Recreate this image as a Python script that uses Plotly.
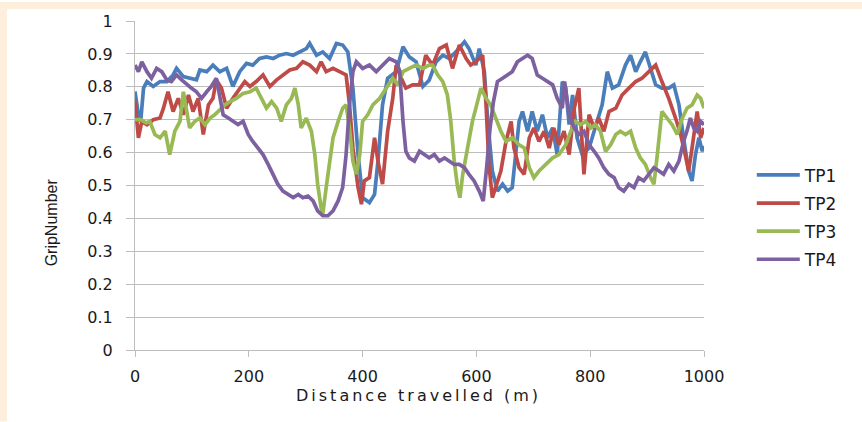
import plotly.graph_objects as go

# ---------------- data ----------------
tp1_x = [0, 6, 10, 15, 21, 32, 44, 56, 67, 73, 85, 96, 108, 114, 126, 137, 149, 161, 172, 184,
         196, 207, 219, 231, 243, 254, 266, 278, 289, 301, 307, 319, 330, 342, 354, 365, 374, 383,
         392, 400, 412, 421, 427, 435, 444, 459, 471, 482, 494, 506, 517, 529, 541, 552, 564, 579,
         587, 599, 605, 614, 620, 628, 637, 646, 655, 663, 669, 675, 681, 690, 698, 707, 716, 725,
         734, 742, 751, 757, 763, 769, 777, 786, 798, 809, 821, 830, 839, 850, 862, 871, 880, 888,
         897, 906, 915, 926, 938, 947, 956, 964, 973, 979, 985, 991, 997, 1000]
tp1_y = [0.786, 0.715, 0.695, 0.796, 0.816, 0.801, 0.816, 0.816, 0.836, 0.856, 0.831, 0.826, 0.821,
         0.851, 0.846, 0.866, 0.846, 0.856, 0.801, 0.846, 0.871, 0.866, 0.886, 0.891, 0.886, 0.896,
         0.901, 0.896, 0.906, 0.916, 0.932, 0.896, 0.906, 0.886, 0.932, 0.927, 0.906, 0.796, 0.594,
         0.463, 0.448, 0.473, 0.574, 0.745, 0.826, 0.846, 0.922, 0.891, 0.876, 0.801, 0.820, 0.876,
         0.896, 0.886, 0.906, 0.937, 0.916, 0.866, 0.916, 0.846, 0.695, 0.544, 0.483, 0.504, 0.483,
         0.494, 0.594, 0.695, 0.725, 0.665, 0.725, 0.665, 0.715, 0.645, 0.675, 0.594, 0.816, 0.796,
         0.685, 0.775, 0.645, 0.594, 0.614, 0.675, 0.745, 0.846, 0.796, 0.806, 0.866, 0.896, 0.846,
         0.876, 0.906, 0.856, 0.806, 0.796, 0.796, 0.806, 0.745, 0.645, 0.544, 0.514, 0.594, 0.645,
         0.604, 0.620]

tp2_x = [0, 6, 12, 21, 32, 44, 50, 58, 67, 76, 85, 94, 102, 111, 120, 129, 137, 143, 152, 161, 172,
         184, 193, 202, 213, 225, 237, 249, 260, 272, 284, 295, 307, 319, 327, 336, 348, 360, 371,
         377, 383, 392, 398, 403, 412, 421, 427, 435, 444, 453, 459, 468, 476, 488, 500, 511, 523,
         535, 547, 558, 570, 582, 590, 599, 611, 617, 622, 628, 634, 643, 652, 661, 666, 675, 684,
         693, 701, 710, 719, 728, 736, 745, 754, 763, 772, 780, 789, 798, 807, 815, 824, 833, 845,
         856, 868, 880, 891, 903, 915, 926, 938, 950, 959, 967, 973, 979, 988, 994, 1000]
tp2_y = [0.755, 0.645, 0.695, 0.685, 0.700, 0.705, 0.735, 0.785, 0.725, 0.765, 0.715, 0.775, 0.725,
         0.765, 0.655, 0.745, 0.765, 0.821, 0.796, 0.735, 0.765, 0.796, 0.816, 0.801, 0.816, 0.836,
         0.801, 0.821, 0.836, 0.851, 0.856, 0.876, 0.866, 0.846, 0.876, 0.846, 0.856, 0.846, 0.836,
         0.745, 0.614, 0.494, 0.443, 0.514, 0.524, 0.645, 0.574, 0.504, 0.665, 0.765, 0.866, 0.826,
         0.796, 0.806, 0.806, 0.896, 0.866, 0.916, 0.927, 0.856, 0.927, 0.886, 0.866, 0.876, 0.896,
         0.745, 0.564, 0.463, 0.494, 0.544, 0.634, 0.695, 0.614, 0.554, 0.534, 0.645, 0.675, 0.634,
         0.665, 0.614, 0.675, 0.624, 0.665, 0.594, 0.735, 0.796, 0.534, 0.715, 0.675, 0.705, 0.665,
         0.725, 0.735, 0.775, 0.796, 0.816, 0.826, 0.846, 0.866, 0.816, 0.765, 0.705, 0.655, 0.594,
         0.544, 0.614, 0.725, 0.645, 0.675]

tp3_x = [0, 10, 20, 26, 35, 44, 53, 61, 70, 79, 85, 91, 96, 105, 114, 123, 132, 140, 149, 158, 167,
         178, 190, 202, 213, 222, 231, 240, 249, 257, 266, 275, 281, 287, 292, 301, 310, 316, 321,
         327, 330, 336, 342, 348, 357, 365, 371, 377, 383, 389, 395, 400, 409, 418, 430, 441, 453,
         462, 471, 482, 494, 506, 517, 523, 532, 541, 549, 555, 561, 567, 571, 576, 582, 587, 593,
         602, 608, 617, 625, 634, 643, 652, 663, 675, 684, 693, 701, 710, 722, 734, 745, 757, 766,
         774, 783, 792, 801, 809, 818, 827, 836, 845, 853, 862, 871, 880, 888, 897, 906, 912, 918,
         926, 935, 944, 953, 962, 970, 979, 988, 994, 1000]
tp3_y = [0.700, 0.700, 0.690, 0.695, 0.655, 0.645, 0.665, 0.594, 0.665, 0.695, 0.785, 0.725, 0.675,
         0.695, 0.705, 0.685, 0.705, 0.715, 0.730, 0.745, 0.755, 0.765, 0.780, 0.785, 0.796, 0.765,
         0.735, 0.755, 0.735, 0.695, 0.745, 0.765, 0.796, 0.745, 0.675, 0.705, 0.665, 0.594, 0.504,
         0.433, 0.413, 0.494, 0.574, 0.645, 0.695, 0.735, 0.745, 0.675, 0.574, 0.534, 0.594, 0.695,
         0.715, 0.745, 0.765, 0.796, 0.826, 0.806, 0.846, 0.856, 0.866, 0.856, 0.866, 0.866, 0.836,
         0.816, 0.775, 0.695, 0.574, 0.494, 0.463, 0.534, 0.594, 0.645, 0.695, 0.755, 0.796, 0.765,
         0.745, 0.705, 0.665, 0.634, 0.645, 0.624, 0.614, 0.554, 0.524, 0.544, 0.564, 0.584, 0.594,
         0.624, 0.665, 0.695, 0.685, 0.695, 0.675, 0.685, 0.665, 0.604, 0.624, 0.655, 0.665, 0.655,
         0.665, 0.614, 0.584, 0.564, 0.524, 0.504, 0.594, 0.725, 0.705, 0.685, 0.655, 0.705, 0.735,
         0.745, 0.775, 0.765, 0.735]

tp4_x = [0, 6, 12, 21, 29, 38, 47, 56, 64, 73, 82, 91, 99, 108, 117, 126, 134, 143, 149, 155, 164,
         172, 181, 190, 199, 207, 216, 225, 234, 243, 251, 260, 269, 278, 287, 295, 304, 313, 321,
         330, 339, 348, 357, 365, 371, 377, 383, 389, 400, 412, 424, 435, 447, 459, 465, 471, 476,
         482, 491, 500, 509, 517, 526, 535, 544, 552, 561, 570, 579, 587, 596, 605, 612, 618, 624,
         630, 637, 646, 655, 663, 672, 681, 690, 698, 707, 716, 725, 734, 742, 751, 755, 763, 772,
         780, 789, 798, 807, 815, 824, 833, 842, 850, 859, 868, 877, 885, 894, 903, 912, 921, 929,
         938, 947, 956, 964, 970, 976, 982, 988, 994, 1000]
tp4_y = [0.866, 0.846, 0.876, 0.846, 0.826, 0.856, 0.846, 0.821, 0.816, 0.836, 0.821, 0.806, 0.796,
         0.785, 0.765, 0.785, 0.801, 0.826, 0.775, 0.715, 0.705, 0.695, 0.685, 0.695, 0.655, 0.634,
         0.614, 0.594, 0.564, 0.534, 0.504, 0.483, 0.473, 0.463, 0.473, 0.463, 0.468, 0.453, 0.423,
         0.408, 0.408, 0.423, 0.453, 0.494, 0.594, 0.745, 0.846, 0.876, 0.856, 0.866, 0.846, 0.866,
         0.886, 0.876, 0.850, 0.695, 0.604, 0.584, 0.574, 0.604, 0.594, 0.584, 0.594, 0.574, 0.584,
         0.574, 0.564, 0.564, 0.554, 0.534, 0.514, 0.483, 0.453, 0.554, 0.675, 0.755, 0.816, 0.826,
         0.836, 0.846, 0.876, 0.886, 0.896, 0.886, 0.836, 0.826, 0.816, 0.806, 0.765, 0.735, 0.816,
         0.715, 0.675, 0.655, 0.665, 0.624, 0.604, 0.584, 0.554, 0.534, 0.524, 0.494, 0.483, 0.504,
         0.494, 0.524, 0.514, 0.534, 0.554, 0.544, 0.534, 0.564, 0.544, 0.574, 0.634, 0.665, 0.705,
         0.675, 0.665, 0.695, 0.685]

series_names = ["TP1", "TP2", "TP3", "TP4"]
series_x = [tp1_x, tp2_x, tp3_x, tp4_x]
series_y = [tp1_y, tp2_y, tp3_y, tp4_y]
series_colors = ["#4A7EBB", "#BE4B48", "#98B954", "#7D60A0"]

x_title = "Distance travelled (m)"
y_title = "GripNumber"

# ---------------- figure ----------------
TICK_FONT = dict(family="DejaVu Sans", size=16, color="#1a1a1a")
GRID = "#BDBDBD"

fig = go.Figure()
for name, xs, ys, col in zip(series_names, series_x, series_y, series_colors):
    fig.add_trace(go.Scatter(x=xs, y=ys, mode="lines", name=name, legendgroup=name,
                             line=dict(color=col, width=3.7)))

fig.update_layout(
    width=862, height=422,
    margin=dict(l=135, r=158, t=19, b=72),
    paper_bgcolor="white", plot_bgcolor="white",
    showlegend=True,
    legend=dict(x=1.084, xanchor="left", y=0.403, yanchor="middle",
                font=dict(family="DejaVu Sans", size=17, color="#1a1a1a"),
                tracegroupgap=3, itemwidth=43, bgcolor="rgba(0,0,0,0)"),
    xaxis=dict(range=[0, 1000], tick0=0, dtick=200, showgrid=False, zeroline=False,
               showline=True, linecolor=GRID, linewidth=1, ticks="outside", ticklen=6,
               tickcolor=GRID, tickfont=TICK_FONT, ticklabelstandoff=6),
    yaxis=dict(range=[0, 1], tick0=0, dtick=0.1, showgrid=True, gridcolor=GRID, gridwidth=1,
               zeroline=False, showline=True, linecolor=GRID, linewidth=1, ticks="outside",
               ticklen=8, tickcolor=GRID, tickfont=TICK_FONT, ticklabelstandoff=10),
    shapes=[
        dict(type="rect", xref="paper", yref="paper", x0=-0.2373, x1=1.2777, y0=1.0363, y1=1.0574,
             fillcolor="#FDEFDB", line=dict(width=0), layer="below"),
        dict(type="rect", xref="paper", yref="paper", x0=-0.2373, x1=-0.225, y0=-0.2175, y1=1.0574,
             fillcolor="#FDEFDB", line=dict(width=0), layer="below"),
    ],
    annotations=[
        dict(text='<span style="letter-spacing:3px">' + x_title + '</span>', xref="paper", yref="paper",
             x=0.499, y=-0.139, xanchor="center", yanchor="middle", showarrow=False,
             font=dict(family="DejaVu Sans", size=16, color="#1a1a1a")),
        dict(text=y_title, xref="paper", yref="paper", x=-0.1476, y=0.388, textangle=-90,
             xanchor="center", yanchor="middle", showarrow=False,
             font=dict(family="Liberation Sans", size=16, color="#1a1a1a")),
    ],
)

fig.write_html("out.html")
